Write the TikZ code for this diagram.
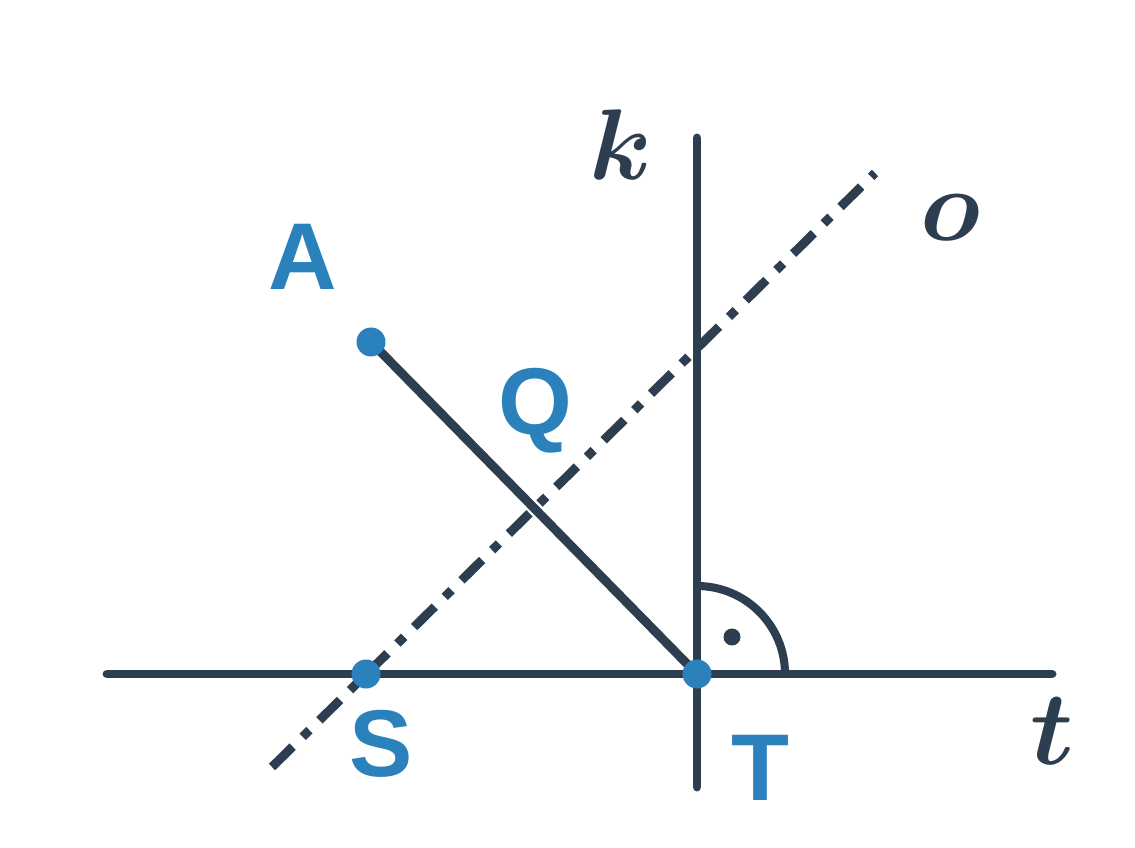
\documentclass[tikz,border=0pt]{standalone}
\usepackage{fontspec}
\newfontfamily\labfont{Liberation Sans}
\definecolor{ink}{HTML}{2C3E50}
\definecolor{pt}{HTML}{2A81BC}
\begin{document}
\begin{tikzpicture}[
  geo/.style={draw=ink, line width=5.1pt, line cap=round},
  axisdash/.style={draw=ink, line width=5.1pt, dash pattern=on 0.58cm off 0.28cm on 0.19cm off 0.28cm},
  ptlab/.style={text=pt, font=\labfont\bfseries\fontsize{54}{60}\selectfont, inner sep=0pt, anchor=base},
  mlabb/.style={text=ink, font=\fontsize{24.88}{30}\selectfont\boldmath, inner sep=0pt, anchor=base},
  pdot/.style={circle, fill=pt, minimum size=0.58cm, inner sep=0pt}
]
\useasboundingbox (0,0) rectangle (22.7,16.94);
% coordinates
\coordinate (T) at (13.94,3.46);
\coordinate (S) at (7.32,3.46);
\coordinate (A) at (7.42,10.10);
\coordinate (tL) at (2.14,3.46);
\coordinate (tR) at (21.04,3.46);
\coordinate (kT) at (13.94,14.18);
\coordinate (kB) at (13.94,1.20);
\coordinate (oL) at (5.44,1.60);
\coordinate (oR) at (17.50,13.48);
% lines
\draw[geo] (tL) -- (tR);
\draw[geo] (kB) -- (kT);
\draw[axisdash] (oL) -- (oR);
\draw[geo, line cap=butt] (A) -- (T);
% right angle mark
\draw[geo, line cap=butt, line width=4.6pt] ([yshift=1.76cm]T) arc[start angle=90, end angle=0, radius=1.76cm];
\node[circle, fill=ink, minimum size=0.34cm, inner sep=0pt] (rdot) at (14.64,4.20) {};
% points
\node[pdot] (Tp) at (T) {};
\node[pdot] (Sp) at (S) {};
\node[pdot] (Ap) at (A) {};
% labels
\node[ptlab] (Alab) at (6.05,11.14) {A};
\node[ptlab] (Qlab) at (10.70,8.26) {Q};
\node[ptlab] (Slab) at (7.62,1.42) {S};
\node[ptlab] (Tlab) at (15.20,0.94) {T};
\node[mlabb] (klab) at (12.42,13.34) {\scalebox{2.3}{$k$}};
\node[mlabb] (olab) at (19.02,12.12) {\scalebox{2.35}{$o$}};
\node[mlabb] (tlab) at (21.04,1.66) {\scalebox{2.4}{$t$}};
\end{tikzpicture}
\end{document}
